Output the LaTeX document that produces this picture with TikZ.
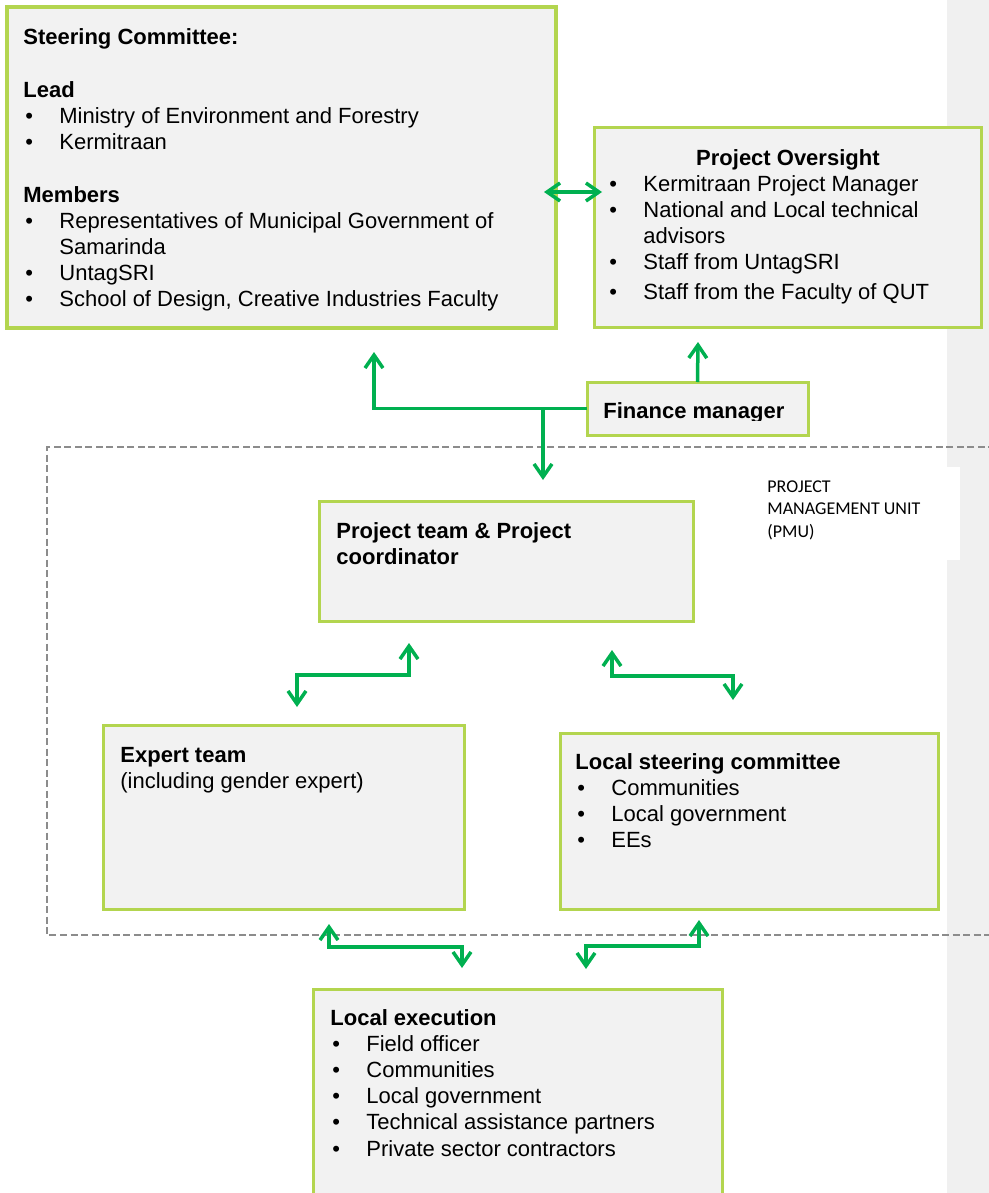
\documentclass[tikz,border=0pt]{standalone}
\usepackage{fontspec}
\setmainfont{Liberation Sans}
\newfontfamily\pmufont{Carlito}
\usetikzlibrary{arrows.meta}
\definecolor{boxedge}{HTML}{B3D54F}
\definecolor{boxfill}{HTML}{F2F2F2}
\definecolor{linkgreen}{HTML}{00B050}
\definecolor{stripgray}{HTML}{F0F0F0}
\definecolor{pmuline}{HTML}{8C8C8C}
\newcommand{\bitem}[1]{\par\noindent\makebox[18pt][l]{\hspace{1pt}\textbullet}#1}
\newcommand{\bcont}[1]{\newline\hspace*{18pt}#1}
\begin{document}
\begin{tikzpicture}[x=0.5pt,y=-0.5pt,
    >={Straight Barb[length=6.5pt,width=9pt]},
    panel/.style={draw=boxedge,fill=boxfill,line width=1.5pt,inner sep=0pt,outer sep=0pt,anchor=north west},
    txt/.style={anchor=base west,inner sep=0pt,font=\fontsize{11pt}{13.1pt}\selectfont},
    link/.style={draw=linkgreen,line width=1.75pt}]
            \useasboundingbox (0,0) rectangle (989,1193);
            \clip (0,0) rectangle (989,1193);
            \fill[stripgray] (947,0) rectangle (989,1193);
            \fill[white] (750,467) rectangle (960,560);
            \draw[pmuline,line width=1pt,dash pattern=on 3.5pt off 1.75pt] (995,447) -- (47,447) -- (47,935) -- (995,935);
            \node[txt,font=\pmufont\fontsize{9pt}{11.25pt}\selectfont] (pmu) at (767,492) {\parbox[t]{100pt}{PROJECT\par MANAGEMENT UNIT\par (PMU)}};
            \node[panel,line width=2pt,minimum width=274.5pt,minimum height=160.5pt] (sc) at (7,7) {};
            \node[txt] (sc-txt) at (23,45) {\parbox[t]{260pt}{\raggedright\textbf{Steering Committee:}\par\vspace{13.1pt}\textbf{Lead}\bitem{Ministry of Environment and Forestry}\bitem{Kermitraan}\par\vspace{13.1pt}\textbf{Members}\bitem{Representatives of Municipal Government of\bcont{Samarinda}}\bitem{UntagSRI}\bitem{School of Design, Creative Industries Faculty}}};
            \node[panel,minimum width=193.5pt,minimum height=99.5pt] (po) at (594,128) {};
            \node[txt] (po-txt) at (607,165) {\parbox[t]{180.5pt}{\centering\textbf{Project Oversight}\par\raggedright\bitem{Kermitraan Project Manager}\bitem{National and Local technical\bcont{advisors}}\bitem{Staff from UntagSRI}\par\vspace{1.5pt}\bitem{Staff from the Faculty of QUT}}};
            \node[panel,minimum width=110.5pt,minimum height=26.5pt] (fm) at (587,382) {};
            \begin{scope}
                \clip (590,385) rectangle (805,420);
                \node[txt] (fm-txt) at (603,418) {\textbf{Finance manager}};
            \end{scope}
            \node[panel,minimum width=187pt,minimum height=60pt] (team) at (319,501) {};
            \node[txt] (team-txt) at (336,538) {\parbox[t]{170pt}{\bfseries Project team \& Project\par coordinator}};
            \node[panel,minimum width=180.5pt,minimum height=92pt] (et) at (103,725) {};
            \node[txt] (et-txt) at (120,762) {\parbox[t]{170pt}{\textbf{Expert team}\par (including gender expert)}};
            \node[panel,minimum width=189pt,minimum height=88pt] (lsc) at (560,733) {};
            \node[txt] (lsc-txt) at (575,769) {\parbox[t]{180pt}{\raggedright\textbf{Local steering committee}\bitem{Communities}\bitem{Local government}\bitem{EEs}}};
            \node[panel,minimum width=204.5pt,minimum height=115.5pt] (le) at (313,989) {};
            \node[txt] (le-txt) at (330,1025) {\parbox[t]{200pt}{\raggedright\textbf{Local execution}\bitem{Field officer}\bitem{Communities}\bitem{Local government}\bitem{Technical assistance partners}\bitem{Private sector contractors}}};
            \coordinate (sc-r) at (544,192);
            \coordinate (po-l) at (602,192);
            \coordinate (po-in) at (698,342);
            \coordinate (sc-in) at (374,352);
            \coordinate (team-in) at (543,480);
            \coordinate (team-l) at (409,643);
            \coordinate (et-in) at (297,707);
            \coordinate (team-r) at (612,650);
            \coordinate (lsc-in) at (733,700);
            \coordinate (et-out) at (329,924);
            \coordinate (le-l) at (462,968);
            \coordinate (lsc-out) at (699,920);
            \coordinate (le-r) at (586,969);
            \draw[link,<->] (sc-r) -- (po-l);
            \draw[link,->] (fm.north) -- (po-in);
            \draw[link,->] (fm.west) -| (sc-in);
            \draw[link,->] (fm.west) -| (team-in);
            \draw[link,<->] (team-l) -- ++(0,32) -| (et-in);
            \draw[link,<->] (team-r) -- ++(0,26) -| (lsc-in);
            \draw[link,<->] (et-out) -- ++(0,23) -| (le-l);
            \draw[link,<->] (lsc-out) -- ++(0,26) -| (le-r);
        \end{tikzpicture}
\end{document}
